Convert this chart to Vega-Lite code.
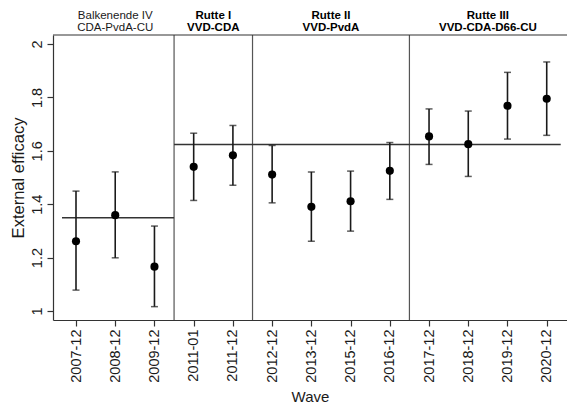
{
  "$schema": "https://vega.github.io/schema/vega-lite/v6.json",
  "width": 514,
  "height": 285,
  "autosize": {"type": "none"},
  "padding": {"left": 53, "top": 35, "right": 0, "bottom": 90},
  "background": "white",
  "config": {
    "view": {"stroke": null},
    "font": "Liberation Sans",
    "axis": {"grid": false, "domainColor": "#333", "domainWidth": 1.2, "tickColor": "#333", "tickWidth": 1.2, "tickSize": 6, "labelColor": "#1a1a1a", "titleColor": "#1a1a1a", "labelFont": "Liberation Sans", "titleFont": "Liberation Sans", "titleFontWeight": "normal"}
  },
  "datasets": {
    "waves": [
      {"wave": "2007-12", "idx": 1, "est": 1.261, "lo": 1.078, "hi": 1.449},
      {"wave": "2008-12", "idx": 2, "est": 1.359, "lo": 1.199, "hi": 1.521},
      {"wave": "2009-12", "idx": 3, "est": 1.166, "lo": 1.016, "hi": 1.318},
      {"wave": "2011-01", "idx": 4, "est": 1.540, "lo": 1.414, "hi": 1.666},
      {"wave": "2011-12", "idx": 5, "est": 1.583, "lo": 1.471, "hi": 1.695},
      {"wave": "2012-12", "idx": 6, "est": 1.511, "lo": 1.405, "hi": 1.620},
      {"wave": "2013-12", "idx": 7, "est": 1.390, "lo": 1.261, "hi": 1.521},
      {"wave": "2015-12", "idx": 8, "est": 1.411, "lo": 1.299, "hi": 1.524},
      {"wave": "2016-12", "idx": 9, "est": 1.525, "lo": 1.418, "hi": 1.631},
      {"wave": "2017-12", "idx": 10, "est": 1.654, "lo": 1.549, "hi": 1.757},
      {"wave": "2018-12", "idx": 11, "est": 1.625, "lo": 1.504, "hi": 1.749},
      {"wave": "2019-12", "idx": 12, "est": 1.769, "lo": 1.644, "hi": 1.894},
      {"wave": "2020-12", "idx": 13, "est": 1.795, "lo": 1.658, "hi": 1.933}
    ],
    "cabinets": [
      {"label": "Balkenende IV\nCDA-PvdA-CU", "mid": 2, "bold": false, "pos": 2.104},
      {"label": "Rutte I\nVVD-CDA", "mid": 4.5, "bold": true, "pos": 2.104},
      {"label": "Rutte II\nVVD-PvdA", "mid": 7.5, "bold": true, "pos": 2.104},
      {"label": "Rutte III\nVVD-CDA-D66-CU", "mid": 11.5, "bold": true, "pos": 2.104}
    ],
    "borders": [{"b": 3.5}, {"b": 5.5}, {"b": 9.5}],
    "eras": [
      {"era": "Balkenende", "start": 0.643, "end": 3.5, "mean": 1.349},
      {"era": "Rutte", "start": 3.5, "end": 13.357, "mean": 1.624}
    ]
  },
  "encoding": {
    "x": {"type": "quantitative", "scale": {"domain": [0.4136, 13.517], "nice": false, "zero": false}},
    "y": {"type": "quantitative", "scale": {"domain": [0.966, 2.034], "nice": false, "zero": false}}
  },
  "layer": [
    {
      "data": {"name": "borders"},
      "mark": {"type": "rule", "color": "#555", "strokeWidth": 1.2},
      "encoding": {"x": {"field": "b", "type": "quantitative"}}
    },
    {
      "data": {"values": [{"top": 2.034}]},
      "mark": {"type": "rule", "color": "#333", "strokeWidth": 1.2},
      "encoding": {"y": {"field": "top", "type": "quantitative"}}
    },
    {
      "data": {"name": "eras"},
      "mark": {"type": "rule", "color": "#333", "strokeWidth": 1.5},
      "encoding": {
        "x": {"field": "start", "type": "quantitative"},
        "x2": {"field": "end"},
        "y": {"field": "mean", "type": "quantitative"}
      }
    },
    {
      "data": {"name": "waves"},
      "mark": {"type": "rule", "color": "#1a1a1a", "strokeWidth": 1.6},
      "encoding": {
        "x": {"field": "idx", "type": "quantitative",
          "axis": {"values": [1,2,3,4,5,6,7,8,9,10,11,12,13],
            "labelExpr": "['2007-12','2008-12','2009-12','2011-01','2011-12','2012-12','2013-12','2015-12','2016-12','2017-12','2018-12','2019-12','2020-12'][datum.value-1]",
            "labelAngle": 270, "labelAlign": "right", "labelBaseline": "middle", "labelPadding": 3, "labelFontSize": 14.5, "labelOverlap": false, "labelFlush": false,
            "title": "Wave", "titleFontSize": 15, "titlePadding": 7}},
        "y": {"field": "lo", "type": "quantitative",
          "axis": {"values": [1, 1.2, 1.4, 1.6, 1.8, 2], "format": "~g", "labelAngle": 270, "labelAlign": "center", "labelBaseline": "bottom", "labelPadding": 3, "labelFontSize": 14.5, "labelOverlap": false, "labelFlush": false,
            "title": "External efficacy", "titleFontSize": 16.5, "titlePadding": 3}},
        "y2": {"field": "hi"}
      }
    },
    {
      "data": {"name": "waves"},
      "mark": {"type": "tick", "orient": "horizontal", "color": "#1a1a1a", "size": 7, "thickness": 1.5},
      "encoding": {"x": {"field": "idx", "type": "quantitative"}, "y": {"field": "lo", "type": "quantitative"}}
    },
    {
      "data": {"name": "waves"},
      "mark": {"type": "tick", "orient": "horizontal", "color": "#1a1a1a", "size": 7, "thickness": 1.5},
      "encoding": {"x": {"field": "idx", "type": "quantitative"}, "y": {"field": "hi", "type": "quantitative"}}
    },
    {
      "data": {"name": "waves"},
      "mark": {"type": "point", "filled": true, "shape": "circle", "size": 66, "color": "#000", "opacity": 1},
      "encoding": {"x": {"field": "idx", "type": "quantitative"}, "y": {"field": "est", "type": "quantitative"}}
    },
    {
      "data": {"name": "cabinets"},
      "transform": [{"filter": "!datum.bold"}],
      "mark": {"type": "text", "lineBreak": "\n", "fontSize": 11.5, "lineHeight": 12, "baseline": "middle", "align": "center", "clip": false, "color": "#1a1a1a"},
      "encoding": {"x": {"field": "mid", "type": "quantitative"}, "y": {"field": "pos", "type": "quantitative"}, "text": {"field": "label"}}
    },
    {
      "data": {"name": "cabinets"},
      "transform": [{"filter": "datum.bold"}],
      "mark": {"type": "text", "lineBreak": "\n", "fontSize": 11.5, "lineHeight": 12, "fontWeight": "bold", "baseline": "middle", "align": "center", "clip": false, "color": "#000"},
      "encoding": {"x": {"field": "mid", "type": "quantitative"}, "y": {"field": "pos", "type": "quantitative"}, "text": {"field": "label"}}
    }
  ]
}
